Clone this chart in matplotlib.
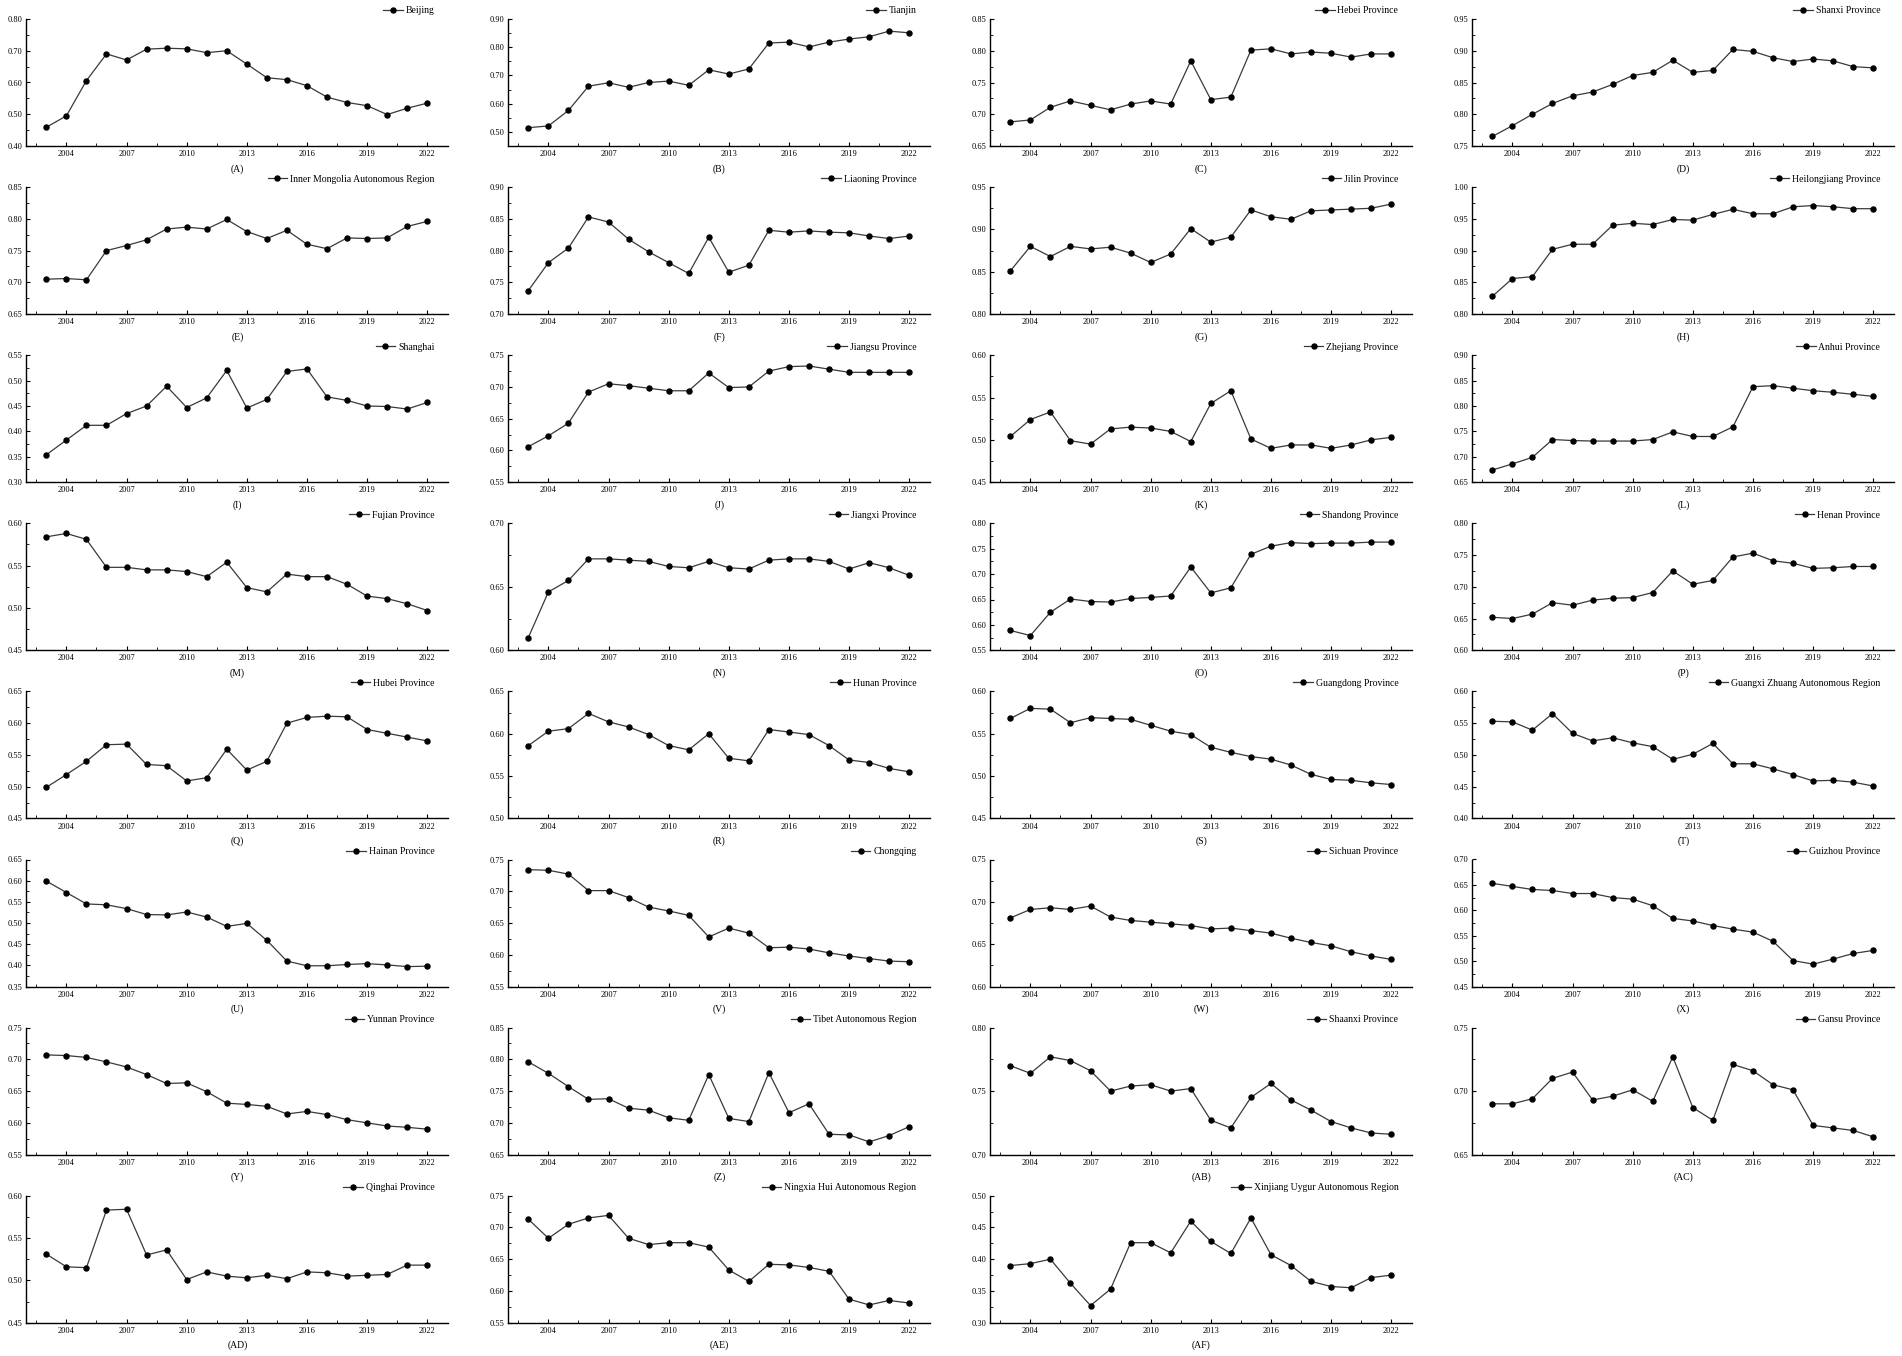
import matplotlib
matplotlib.use('Agg')
import matplotlib.pyplot as plt
from matplotlib.ticker import MultipleLocator, AutoMinorLocator, FormatStrFormatter

plt.rcParams['font.family'] = ['Liberation Serif', 'DejaVu Serif']

years = list(range(2003, 2023))

beijing = [0.459, 0.495, 0.606, 0.690, 0.671, 0.705, 0.708, 0.706, 0.694, 0.700,
           0.658, 0.615, 0.609, 0.590, 0.554, 0.537, 0.527, 0.499, 0.519, 0.535]
tianjin = [0.515, 0.521, 0.576, 0.662, 0.674, 0.658, 0.675, 0.680, 0.665, 0.720,
           0.705, 0.723, 0.815, 0.818, 0.801, 0.818, 0.829, 0.837, 0.857, 0.851]
hebei = [0.688, 0.691, 0.711, 0.721, 0.714, 0.707, 0.716, 0.721, 0.716, 0.784,
         0.723, 0.727, 0.801, 0.803, 0.795, 0.798, 0.796, 0.790, 0.795, 0.795]
shanxi = [0.765, 0.782, 0.800, 0.817, 0.829, 0.835, 0.847, 0.861, 0.866, 0.885,
          0.866, 0.869, 0.902, 0.899, 0.889, 0.883, 0.887, 0.884, 0.875, 0.873]
inner_mongolia = [0.705, 0.706, 0.704, 0.750, 0.758, 0.767, 0.784, 0.787, 0.784, 0.799,
                  0.780, 0.769, 0.782, 0.760, 0.753, 0.770, 0.769, 0.770, 0.788, 0.796]
liaoning = [0.737, 0.781, 0.804, 0.853, 0.845, 0.818, 0.798, 0.781, 0.764, 0.821,
            0.766, 0.777, 0.832, 0.829, 0.831, 0.829, 0.828, 0.823, 0.819, 0.823]
jilin = [0.851, 0.880, 0.868, 0.880, 0.877, 0.879, 0.872, 0.861, 0.871, 0.901,
         0.885, 0.891, 0.923, 0.915, 0.912, 0.922, 0.923, 0.924, 0.925, 0.930]
heilongjiang = [0.828, 0.856, 0.859, 0.902, 0.910, 0.910, 0.940, 0.943, 0.941, 0.949,
                0.948, 0.957, 0.965, 0.958, 0.958, 0.969, 0.971, 0.969, 0.966, 0.966]
shanghai = [0.354, 0.383, 0.412, 0.412, 0.435, 0.450, 0.489, 0.447, 0.466, 0.520,
            0.446, 0.463, 0.518, 0.523, 0.468, 0.461, 0.450, 0.449, 0.444, 0.457]
jiangsu = [0.606, 0.623, 0.643, 0.692, 0.705, 0.702, 0.698, 0.694, 0.694, 0.722,
           0.699, 0.700, 0.725, 0.732, 0.733, 0.728, 0.723, 0.723, 0.723, 0.723]
zhejiang = [0.504, 0.524, 0.533, 0.499, 0.495, 0.513, 0.515, 0.514, 0.510, 0.498,
            0.543, 0.558, 0.501, 0.490, 0.494, 0.494, 0.490, 0.494, 0.500, 0.503]
anhui = [0.674, 0.686, 0.699, 0.734, 0.732, 0.731, 0.731, 0.731, 0.734, 0.749,
         0.740, 0.740, 0.759, 0.838, 0.840, 0.835, 0.830, 0.827, 0.823, 0.819]
fujian = [0.584, 0.588, 0.581, 0.548, 0.548, 0.545, 0.545, 0.543, 0.537, 0.554,
          0.524, 0.519, 0.540, 0.537, 0.537, 0.528, 0.514, 0.511, 0.505, 0.497]
jiangxi = [0.610, 0.646, 0.655, 0.672, 0.672, 0.671, 0.670, 0.666, 0.665, 0.670,
           0.665, 0.664, 0.671, 0.672, 0.672, 0.670, 0.664, 0.669, 0.665, 0.659]
shandong = [0.589, 0.579, 0.625, 0.651, 0.646, 0.645, 0.652, 0.654, 0.657, 0.714,
            0.663, 0.673, 0.739, 0.755, 0.762, 0.760, 0.761, 0.761, 0.763, 0.763]
henan = [0.652, 0.650, 0.657, 0.675, 0.671, 0.679, 0.682, 0.683, 0.691, 0.725,
         0.704, 0.710, 0.747, 0.753, 0.741, 0.737, 0.729, 0.730, 0.732, 0.732]
hubei = [0.499, 0.519, 0.540, 0.566, 0.567, 0.535, 0.533, 0.509, 0.514, 0.559,
         0.526, 0.540, 0.600, 0.609, 0.611, 0.610, 0.590, 0.584, 0.578, 0.572]
hunan = [0.586, 0.603, 0.606, 0.624, 0.614, 0.608, 0.599, 0.586, 0.581, 0.600,
         0.571, 0.568, 0.605, 0.602, 0.599, 0.586, 0.569, 0.566, 0.559, 0.555]
guangdong = [0.568, 0.580, 0.579, 0.563, 0.569, 0.568, 0.567, 0.560, 0.553, 0.549,
             0.534, 0.528, 0.523, 0.520, 0.513, 0.502, 0.496, 0.495, 0.492, 0.490]
guangxi = [0.553, 0.552, 0.539, 0.565, 0.534, 0.522, 0.527, 0.519, 0.513, 0.493,
           0.501, 0.518, 0.486, 0.486, 0.478, 0.469, 0.459, 0.460, 0.457, 0.451]
hainan = [0.599, 0.572, 0.545, 0.543, 0.534, 0.520, 0.519, 0.526, 0.514, 0.492,
          0.499, 0.459, 0.410, 0.399, 0.399, 0.402, 0.404, 0.401, 0.397, 0.398]
chongqing = [0.734, 0.733, 0.727, 0.701, 0.701, 0.690, 0.675, 0.669, 0.662, 0.628,
             0.642, 0.634, 0.611, 0.612, 0.609, 0.603, 0.598, 0.594, 0.590, 0.589]
sichuan = [0.681, 0.691, 0.693, 0.691, 0.695, 0.682, 0.678, 0.676, 0.674, 0.672,
           0.668, 0.669, 0.666, 0.663, 0.657, 0.652, 0.648, 0.641, 0.636, 0.632]
guizhou = [0.653, 0.647, 0.641, 0.639, 0.633, 0.633, 0.625, 0.622, 0.609, 0.584,
           0.579, 0.570, 0.563, 0.557, 0.539, 0.501, 0.494, 0.504, 0.515, 0.521]
yunnan = [0.707, 0.706, 0.703, 0.696, 0.688, 0.676, 0.662, 0.663, 0.649, 0.631,
          0.629, 0.626, 0.614, 0.618, 0.613, 0.605, 0.600, 0.595, 0.593, 0.590]
tibet = [0.796, 0.778, 0.757, 0.737, 0.738, 0.723, 0.720, 0.708, 0.704, 0.776,
         0.707, 0.702, 0.779, 0.716, 0.730, 0.682, 0.681, 0.670, 0.680, 0.694]
shaanxi = [0.770, 0.764, 0.777, 0.774, 0.766, 0.750, 0.754, 0.755, 0.750, 0.752,
           0.727, 0.721, 0.745, 0.756, 0.743, 0.735, 0.726, 0.721, 0.717, 0.716]
gansu = [0.690, 0.690, 0.694, 0.710, 0.715, 0.693, 0.696, 0.701, 0.692, 0.727,
         0.687, 0.677, 0.721, 0.716, 0.705, 0.701, 0.673, 0.671, 0.669, 0.664]
qinghai = [0.531, 0.516, 0.515, 0.583, 0.584, 0.530, 0.536, 0.501, 0.510, 0.505,
           0.503, 0.506, 0.502, 0.510, 0.509, 0.505, 0.506, 0.507, 0.518, 0.518]
ningxia = [0.713, 0.683, 0.705, 0.715, 0.719, 0.683, 0.673, 0.676, 0.676, 0.669,
           0.633, 0.615, 0.642, 0.641, 0.637, 0.631, 0.587, 0.578, 0.585, 0.581]
xinjiang = [0.390, 0.393, 0.400, 0.362, 0.327, 0.353, 0.426, 0.426, 0.410, 0.460,
            0.428, 0.409, 0.465, 0.407, 0.390, 0.365, 0.357, 0.355, 0.371, 0.375]

series = [beijing, tianjin, hebei, shanxi, inner_mongolia, liaoning, jilin, heilongjiang,
          shanghai, jiangsu, zhejiang, anhui, fujian, jiangxi, shandong, henan,
          hubei, hunan, guangdong, guangxi, hainan, chongqing, sichuan, guizhou,
          yunnan, tibet, shaanxi, gansu, qinghai, ningxia, xinjiang]

names = ['Beijing', 'Tianjin', 'Hebei Province', 'Shanxi Province',
         'Inner Mongolia Autonomous Region', 'Liaoning Province', 'Jilin Province',
         'Heilongjiang Province', 'Shanghai', 'Jiangsu Province', 'Zhejiang Province',
         'Anhui Province', 'Fujian Province', 'Jiangxi Province', 'Shandong Province',
         'Henan Province', 'Hubei Province', 'Hunan Province', 'Guangdong Province',
         'Guangxi Zhuang Autonomous Region', 'Hainan Province', 'Chongqing',
         'Sichuan Province', 'Guizhou Province', 'Yunnan Province',
         'Tibet Autonomous Region', 'Shaanxi Province', 'Gansu Province',
         'Qinghai Province', 'Ningxia Hui Autonomous Region',
         'Xinjiang Uygur Autonomous Region']

panel_labels = ['A', 'B', 'C', 'D', 'E', 'F', 'G', 'H', 'I', 'J', 'K', 'L', 'M', 'N',
                'O', 'P', 'Q', 'R', 'S', 'T', 'U', 'V', 'W', 'X', 'Y', 'Z', 'AB',
                'AC', 'AD', 'AE', 'AF']

y_limits = [(0.40, 0.80), (0.45, 0.90), (0.65, 0.85), (0.75, 0.95),
            (0.65, 0.85), (0.70, 0.90), (0.80, 0.95), (0.80, 1.00),
            (0.30, 0.55), (0.55, 0.75), (0.45, 0.60), (0.65, 0.90),
            (0.45, 0.60), (0.60, 0.70), (0.55, 0.80), (0.60, 0.80),
            (0.45, 0.65), (0.50, 0.65), (0.45, 0.60), (0.40, 0.60),
            (0.35, 0.65), (0.55, 0.75), (0.60, 0.75), (0.45, 0.70),
            (0.55, 0.75), (0.65, 0.85), (0.70, 0.80), (0.65, 0.75),
            (0.45, 0.60), (0.55, 0.75), (0.30, 0.50)]
y_steps = [0.10, 0.10] + [0.05] * 29

W, H = 1902, 1356
fig = plt.figure(figsize=(W / 100, H / 100), dpi=100)

ax_w = 422
ax_h = 127
for i, vals in enumerate(series):
    row, col = divmod(i, 4)
    left = 26.3 + 482 * col
    top = 19 + 168.1 * row
    ax = fig.add_axes([left / W, 1 - (top + ax_h) / H, ax_w / W, ax_h / H])

    ax.plot(years, vals, color='#3a3a3a', lw=0.9, marker='o', markersize=3.6,
            markerfacecolor='black', markeredgecolor='black', label=names[i])

    ax.set_xlim(2002, 2023.05)
    ax.set_ylim(*y_limits[i])
    ax.set_xticks([2004, 2007, 2010, 2013, 2016, 2019, 2022])
    ax.xaxis.set_minor_locator(AutoMinorLocator(2))
    ax.yaxis.set_major_locator(MultipleLocator(y_steps[i]))
    ax.yaxis.set_minor_locator(AutoMinorLocator(2))
    ax.yaxis.set_major_formatter(FormatStrFormatter('%.2f'))

    for side in ['top', 'right']:
        ax.spines[side].set_visible(False)
    for side in ['left', 'bottom']:
        ax.spines[side].set_linewidth(1.0)
    ax.tick_params(which='major', direction='in', length=3, width=0.8,
                   labelsize=6, pad=3)
    ax.tick_params(which='minor', direction='in', length=2, width=0.6)
    ax.patch.set_alpha(0)

    ax.legend(loc='center right', bbox_to_anchor=(0.967, 1.063), frameon=False,
              fontsize=7, handlelength=2.0, handletextpad=0.3,
              borderaxespad=0, borderpad=0)
    ax.text(0.5, -0.18, '(' + panel_labels[i] + ')', transform=ax.transAxes,
            ha='center', va='center', fontsize=7)

fig.savefig('out.png', dpi=100)
